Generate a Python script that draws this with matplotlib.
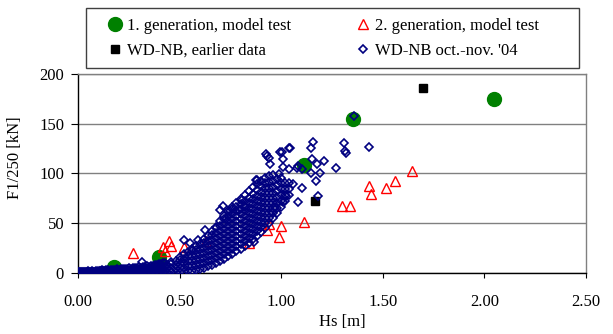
import matplotlib
matplotlib.use("Agg")
import matplotlib.pyplot as plt
from matplotlib.patches import Rectangle

plt.rcParams['font.family'] = ['Liberation Serif', 'DejaVu Serif']

# ---- data ----
gen1_hs = [0.179, 0.399, 1.111, 1.354, 2.045]
gen1_f = [5.4, 15.5, 108, 155, 175]

gen2_hs = [0.27, 0.42, 0.43, 0.45, 0.46, 0.52, 0.63, 0.84, 0.93, 0.94,
           0.99, 1.00, 1.11, 1.30, 1.34, 1.43, 1.44, 1.515, 1.56, 1.645]
gen2_f = [19.5, 25.6, 22, 32, 27, 25.6, 32, 30, 43, 49,
          36, 46.8, 51, 67, 67, 87, 79, 85, 92, 102.5]

early_hs = [1.165, 1.698]
early_f = [72, 185.5]

# WD-NB oct.-nov. '04: low band near the axis
band_hs = [0.00, 0.01, 0.02, 0.03, 0.04, 0.05, 0.06, 0.07, 0.08, 0.09,
           0.10, 0.11, 0.12, 0.13, 0.14, 0.15, 0.16, 0.17, 0.18, 0.19,
           0.20, 0.21, 0.22, 0.23, 0.24, 0.25, 0.26, 0.27, 0.28, 0.29,
           0.30, 0.31, 0.32, 0.33, 0.34, 0.35, 0.36, 0.37, 0.38, 0.39,
           0.40, 0.41, 0.42, 0.43]
band_f_low = [0, 0, 0, 0, 0, 0, 0, 0, 0, 0,
              0, 0, 0, 0, 0, 0, 0, 0, 0, 0,
              0, 0, 0, 0, 0, 0, 0, 0, 0, 0,
              0, 0, 1, 0, 1, 0, 1, 0, 1, 0,
              1, 0, 1, 0]
band_f_mid = [1, 1, 1, 1, 1, 1, 1, 1, 1, 1,
              1, 2, 1, 2, 1, 2, 2, 2, 2, 2,
              2, 2, 3, 2, 3, 2, 3, 3, 3, 3,
              3, 4, 3, 4, 4, 4, 4, 5, 4, 5,
              5, 5, 5, 6]
band_f_high = [1, 1, 1, 1, 1, 2, 1, 2, 1, 2,
               2, 2, 3, 2, 3, 3, 3, 3, 3, 4,
               3, 4, 4, 4, 4, 5, 4, 5, 5, 5,
               6, 5, 6, 6, 7, 6, 7, 7, 8, 8,
               9, 9, 10, 10]

# WD-NB oct.-nov. '04: main cloud, column by column
cloud_hs = [0.44, 0.46, 0.48, 0.50, 0.52, 0.54, 0.56, 0.58, 0.60, 0.62,
            0.64, 0.66, 0.68, 0.70, 0.72, 0.74, 0.76, 0.78, 0.80, 0.82,
            0.84, 0.86, 0.88, 0.90, 0.92, 0.94, 0.96, 0.98, 1.00, 1.02, 1.04]
cloud_f = [
    [0, 4, 8],
    [1, 5, 9, 11],
    [0, 4, 8, 12],
    [1, 5, 9, 13, 16],
    [1, 5, 10, 14, 19],
    [2, 7, 12, 17, 21],
    [2, 7, 12, 17, 22, 24],
    [3, 8, 13, 18, 23, 27],
    [4, 9, 14, 19, 24, 29],
    [5, 10, 15, 20, 25, 30, 34],
    [7, 12, 17, 22, 27, 32, 37],
    [8, 13, 18, 23, 28, 33, 38, 42],
    [10, 15, 20, 25, 30, 35, 40, 46],
    [12, 17, 22, 27, 32, 37, 42, 47, 52],
    [14, 19, 24, 29, 34, 39, 44, 49, 54, 57],
    [17, 22, 27, 32, 37, 42, 47, 52, 57, 62],
    [19, 24, 29, 34, 39, 44, 49, 54, 59, 64, 66],
    [22, 27, 32, 37, 42, 47, 52, 57, 62, 66, 70],
    [24, 29, 34, 39, 44, 49, 54, 59, 64, 69, 74],
    [27, 32, 37, 42, 47, 52, 57, 62, 67, 72, 78],
    [30, 35, 40, 45, 50, 55, 60, 65, 70, 75, 82],
    [34, 39, 44, 49, 54, 59, 64, 69, 74, 79, 86],
    [37, 42, 47, 52, 57, 62, 67, 72, 77, 83, 89],
    [41, 46, 51, 56, 61, 66, 71, 76, 81, 87, 92],
    [45, 50, 55, 60, 65, 70, 75, 80, 85, 90, 95],
    [50, 55, 60, 65, 70, 75, 80, 85, 91, 97],
    [55, 60, 65, 70, 75, 80, 86, 92, 98],
    [60, 65, 70, 76, 82, 88, 94],
    [66, 72, 78, 84, 90, 95],
    [72, 78, 84, 90],
    [78, 84, 90],
]

# WD-NB oct.-nov. '04: scattered points
scatter_hs = [0.313, 0.52, 0.55, 0.59, 0.624, 0.68, 0.698, 0.714, 0.73, 0.75,
              0.79, 0.805, 0.82, 0.865, 0.879, 0.878, 0.924, 0.928, 0.94, 0.947,
              0.953, 0.97, 0.99, 0.993, 1.005, 1.01, 1.01, 1.023, 1.01, 1.039,
              1.039, 1.042, 1.059, 1.083, 1.083, 1.10, 1.10, 1.076, 1.146, 1.149,
              1.152, 1.157, 1.173, 1.178, 1.181, 1.19, 1.209, 1.272, 1.308, 1.316,
              1.32, 1.359, 1.432]
scatter_f = [11, 33, 30, 33, 43, 45, 63, 67, 54, 62,
             63, 73, 66, 31, 93, 93, 119, 117, 115, 109,
             61, 66, 99, 121, 121, 114, 71, 77, 106, 126,
             104, 126, 89, 107, 71, 85, 104, 105, 126, 100,
             114, 132, 92, 109, 77, 100, 112, 105, 131, 122,
             120, 158, 127]

x_ticks = [0.0, 0.5, 1.0, 1.5, 2.0, 2.5]
y_ticks = [0, 50, 100, 150, 200]

# assemble the blue series from its parts
blue_hs = band_hs * 3 + scatter_hs
blue_f = band_f_low + band_f_mid + band_f_high + scatter_f
for xv, ys in zip(cloud_hs, cloud_f):
    blue_hs += [xv] * len(ys)
    blue_f += ys

W, H = 613, 334
fig = plt.figure(figsize=(W / 100, H / 100), dpi=100)
ax_l, ax_r, ax_t, ax_b = 78, 586, 74, 272.7
ax = fig.add_axes([ax_l / W, 1 - ax_b / H, (ax_r - ax_l) / W, (ax_b - ax_t) / H])

green = '#008000'
navy = '#000080'
h1, = ax.plot(gen1_hs, gen1_f, 'o', ms=10, color=green, mec=green, zorder=3,
              label='1. generation, model test')
h2, = ax.plot(gen2_hs, gen2_f, '^', ms=6.5, mfc='none', mec='#ff0000', mew=1.0,
              zorder=4, label='2. generation, model test')
h3, = ax.plot(early_hs, early_f, 's', ms=6, color='black', zorder=5,
              label='WD-NB, earlier data')
h4, = ax.plot(blue_hs, blue_f, 'D', ms=4.3, mfc='none', mec=navy, mew=1.2,
              zorder=6, label="WD-NB oct.-nov. '04")

ax.set_xlim(0, 2.5)
ax.set_ylim(0, 200)
ax.set_xticks(x_ticks)
ax.set_xticklabels([f'{v:.2f}' for v in x_ticks])
ax.set_yticks(y_ticks)
ax.set_yticklabels([str(v) for v in y_ticks])
ax.tick_params(axis='x', direction='out', length=3.6, width=0.8, pad=12, labelsize=12)
ax.tick_params(axis='y', direction='out', length=5, width=0.8, pad=5, labelsize=12)
ax.yaxis.grid(True, color='#808080', lw=1.0)
ax.set_axisbelow(True)
for s in ['left', 'bottom']:
    ax.spines[s].set_color('black')
    ax.spines[s].set_linewidth(1.0)
for s in ['top', 'right']:
    ax.spines[s].set_color('#808080')
    ax.spines[s].set_linewidth(1.0)

fig.text(342 / W, 1 - 322 / H, 'Hs [m]', ha='center', va='center', fontsize=12)
fig.text(15 / W, 1 - 158 / H, 'F1/250 [kN]', ha='center', va='center',
         rotation=90, fontsize=12)

# legend box
fig.patches.append(Rectangle((86 / W, 1 - 68.3 / H), (579.3 - 86) / W, 60 / H,
                             transform=fig.transFigure, fill=False,
                             edgecolor='#404040', lw=1.0))
yc = 1 - 38.35 / H
kw = dict(frameon=False, borderpad=0, handlelength=0.8, handletextpad=0.3,
          labelspacing=0.55, fontsize=12, loc='center left', borderaxespad=0,
          bbox_transform=fig.transFigure)
leg1 = fig.legend([h1, h3], [h1.get_label(), h3.get_label()],
                  bbox_to_anchor=(108.3 / W, yc), **kw)
leg2 = fig.legend([h2, h4], [h2.get_label(), h4.get_label()],
                  bbox_to_anchor=(356.3 / W, yc), **kw)

fig.savefig('out.png', dpi=100)
